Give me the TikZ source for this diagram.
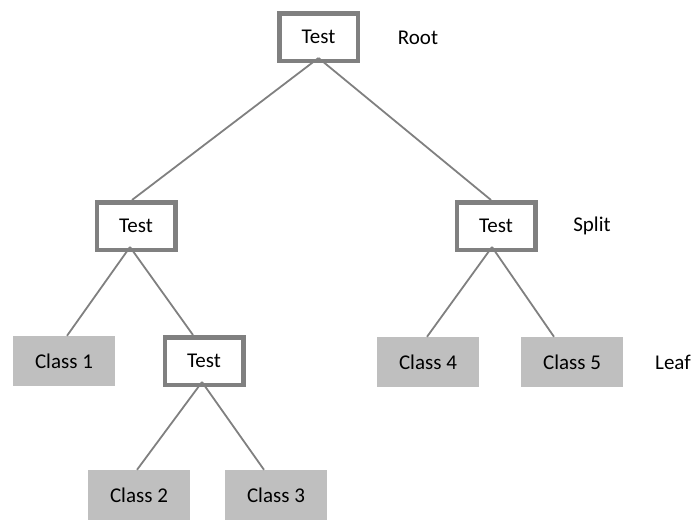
\documentclass[tikz,border=0pt]{standalone}
\usepackage{fontspec}
\setmainfont{Carlito}
\definecolor{edgegray}{RGB}{128,128,128}
\definecolor{leafgray}{RGB}{191,191,191}

\begin{document}
\begin{tikzpicture}[x=1pt, y=-1pt,
    font=\fontsize{21}{25}\selectfont,
    testbox/.style={draw=edgegray, line width=4.5pt, fill=white, minimum width=78.5pt, minimum height=47.5pt, inner sep=0pt},
    classbox/.style={fill=leafgray, minimum width=102pt, minimum height=50pt, inner sep=0pt},
    edge/.style={draw=edgegray, line width=1.8pt}]
    \useasboundingbox (0,0) rectangle (694,520);
    \node[testbox] (root) at(318.5, 37) {Test};
    \node (rootlbl) at(418, 38) {Root};
    \node[testbox] (testl) at(136, 226) {Test};
    \node[testbox] (testr) at(496, 226) {Test};
    \node (splitlbl) at(592, 226) {Split};
    \node[classbox] (class1) at(64, 361) {Class 1};
    \node[testbox] (testll) at(204, 361) {Test};
    \node[classbox] (class4) at(428, 362) {Class 4};
    \node[classbox] (class5) at(572, 362) {Class 5};
    \node (leaflbl) at(673, 362) {Leaf};
    \node[classbox] (class2) at(139, 495) {Class 2};
    \node[classbox] (class3) at(276, 495) {Class 3};
    \draw[edge] ([yshift=5pt]root.south) -- ([xshift=-4pt]testl.north);
    \draw[edge] ([yshift=5pt]root.south) -- ([xshift=-5pt]testr.north);
    \draw[edge] ([xshift=-6pt, yshift=5pt]testl.south) -- ([xshift=3pt]class1.north);
    \draw[edge] ([xshift=-6pt, yshift=5pt]testl.south) -- ([xshift=-11pt]testll.north);
    \draw[edge] ([xshift=-2pt, yshift=5pt]testll.south) -- ([xshift=-2pt]class2.north);
    \draw[edge] ([xshift=-2pt, yshift=5pt]testll.south) -- ([xshift=-12pt]class3.north);
    \draw[edge] ([xshift=-4pt, yshift=5pt]testr.south) -- ([xshift=-1pt]class4.north);
    \draw[edge] ([xshift=-4pt, yshift=5pt]testr.south) -- ([xshift=-18pt]class5.north);
  \end{tikzpicture}
\end{document}
